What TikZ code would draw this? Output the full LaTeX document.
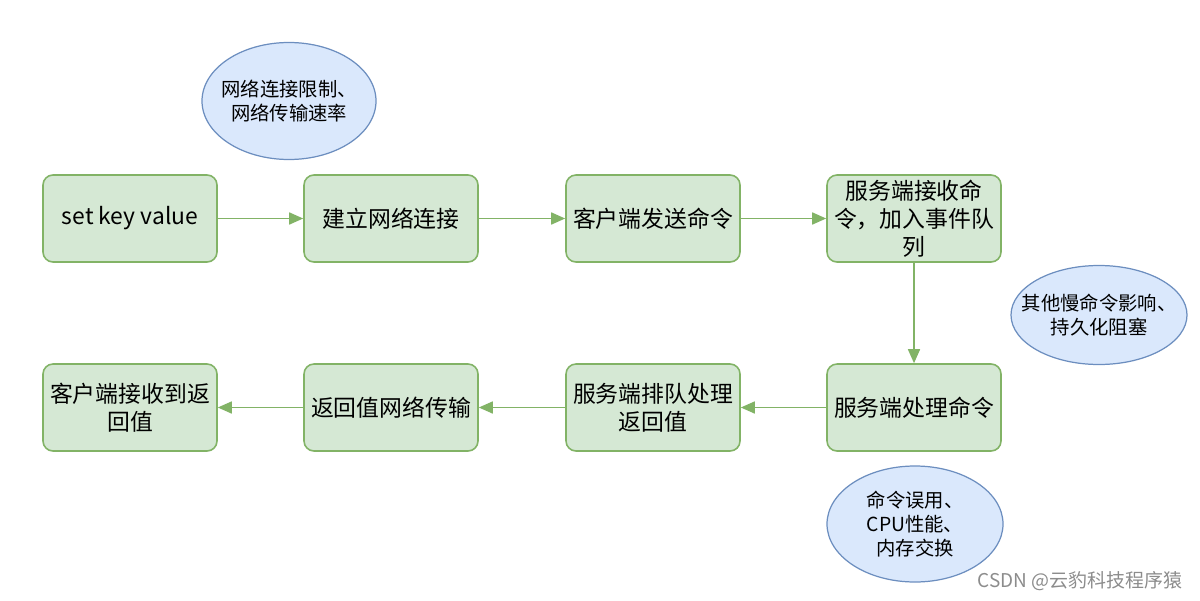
\documentclass[tikz,border=0pt]{standalone}
\usepackage{fontspec}
\setmainfont{Noto Sans CJK SC}
\usetikzlibrary{shapes.geometric, arrows.meta, positioning}
\definecolor{stepfill}{HTML}{D5E8D4}
\definecolor{stepline}{HTML}{82B366}
\definecolor{notefill}{HTML}{DAE8FC}
\definecolor{noteline}{HTML}{6C8EBF}

\begin{document}
\begin{tikzpicture}[
    stepbox/.style={rectangle, rounded corners=0.2cm, draw=stepline, fill=stepfill, line width=0.9pt,
                minimum width=3.48cm, minimum height=1.74cm, align=center, inner sep=1pt,
                font=\fontsize{13}{16}\selectfont},
    note/.style={ellipse, draw=noteline, fill=notefill, line width=0.7pt, inner xsep=-0.4cm, inner ysep=0pt,
                align=center, font=\fontsize{11}{13.5}\selectfont},
    flow/.style={-{Triangle[length=0.28cm, width=0.24cm]}, draw=stepline, line width=0.9pt}]
    \useasboundingbox (0,0) rectangle (24,12);

    \node[stepbox] (set) at (2.6, 7.63) {set key value};
    \node[stepbox] (conn) at (7.82, 7.63) {建立网络连接};
    \node[stepbox] (send) at (13.06, 7.63) {客户端发送命令};
    \node[stepbox] (recv) at (18.28, 7.63) {服务端接收命\\令，加入事件队\\列};

    \node[stepbox] (exec) at (18.28, 3.85) {服务端处理命令};
    \node[stepbox] (queue) at (13.06, 3.85) {服务端排队处理\\返回值};
    \node[stepbox] (back) at (7.82, 3.85) {返回值网络传输};
    \node[stepbox] (got) at (2.6, 3.85) {客户端接收到返\\回值};

    % bottlenecks
    \node[note, minimum width=3.48cm, minimum height=2.34cm] (net) at (5.78, 9.98) {网络连接限制、\\网络传输速率};
    \node[note, minimum width=3.52cm, minimum height=1.98cm] (slow) at (21.98, 5.7) {其他慢命令影响、\\持久化阻塞};
    \node[note, minimum width=3.52cm, minimum height=2.32cm] (cpu) at (18.3, 1.52) {命令误用、\\CPU性能、\\内存交换};

    \draw[flow] (set) -- (conn);
    \draw[flow] (conn) -- (send);
    \draw[flow] (send) -- (recv);
    \draw[flow] (recv) -- (exec);
    \draw[flow] (exec) -- (queue);
    \draw[flow] (queue) -- (back);
    \draw[flow] (back) -- (got);

    \node[text=gray!90, font=\fontsize{10.8}{12}\selectfont] (mark) at (21.6, 0.38) {CSDN @云豹科技程序猿};
\end{tikzpicture}
\end{document}
